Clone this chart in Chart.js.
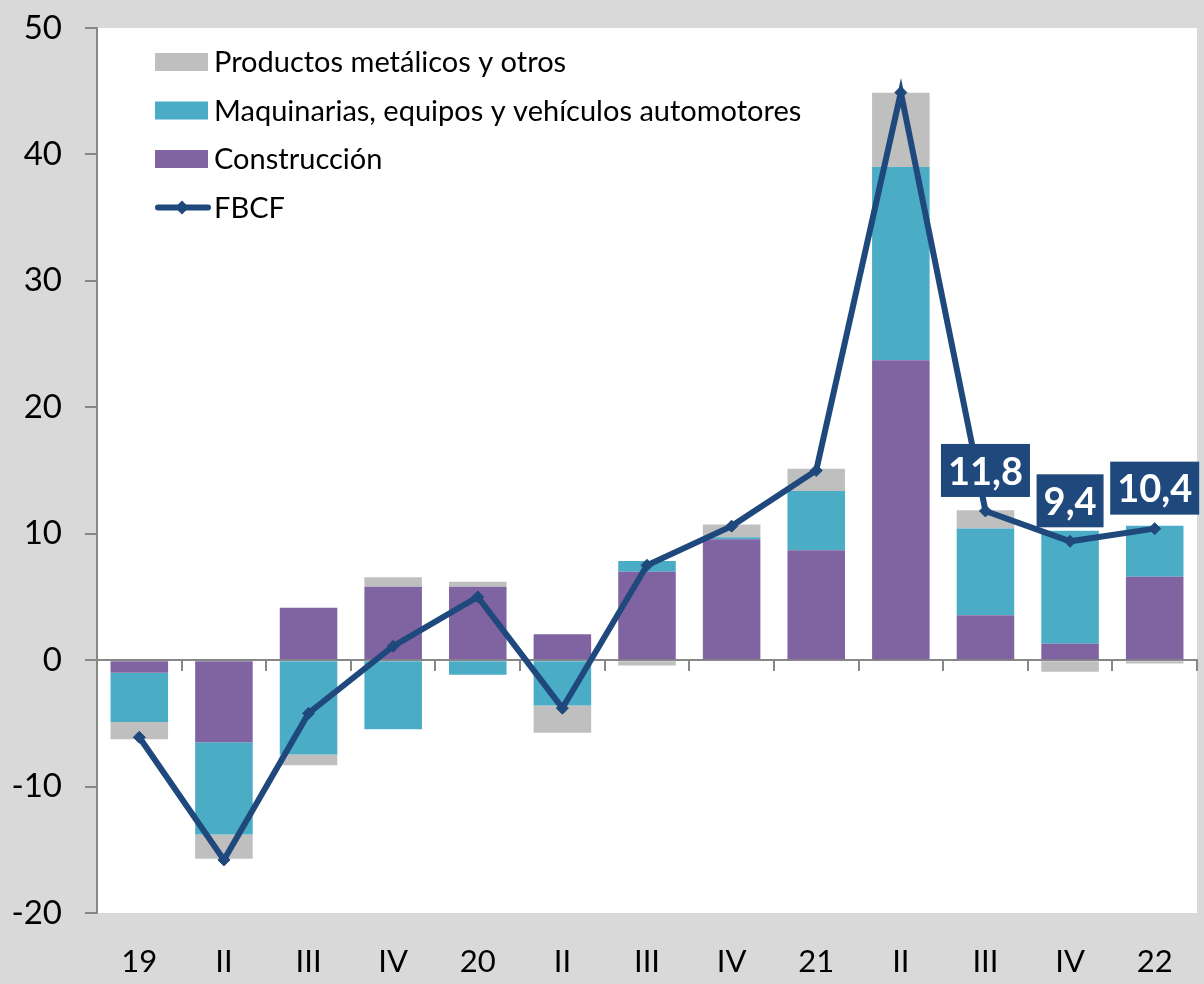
<!DOCTYPE html>
<html>
<head>
<meta charset="utf-8">
<script src="https://cdn.jsdelivr.net/npm/chart.js@4.4.1/dist/chart.umd.min.js"></script>
<style>
  html, body { margin: 0; padding: 0; background: #d9d9d9; }
  #wrap { width: 1204px; height: 984px; }
</style>
</head>
<body>
<div id="wrap"><canvas id="fbcf-chart" width="1204" height="984"></canvas></div>
<script>
// quarters 2019 I .. 2022 I
var categories = ["19", "II", "III", "IV", "20", "II", "III", "IV", "21", "II", "III", "IV", "22"];
var construccion = [-1.0, -6.5, 4.15, 5.8, 5.8, 2.05, 7.0, 9.57, 8.7, 23.73, 3.56, 1.29, 6.59];
var maquinarias = [-3.9, -7.3, -7.46, -5.46, -1.16, -3.58, 0.85, 0.16, 4.67, 15.27, 6.85, 8.94, 4.04];
var productos = [-1.35, -1.9, -0.85, 0.75, 0.4, -2.17, -0.42, 1.0, 1.76, 5.87, 1.45, -0.92, -0.26];
var fbcf = [-6.1, -15.8, -4.2, 1.1, 5.0, -3.8, 7.5, 10.6, 15.0, 44.9, 11.8, 9.4, 10.4];
var yTicks = [-20, -10, 0, 10, 20, 30, 40, 50];
var labelledPoints = [10, 11, 12];

var FONT = "Lato, 'Open Sans', sans-serif";
var AXIS_GREY = "#878787";
var LINE_BLUE = "#1F497D";

// grey page, white plot area
var backgroundPlugin = {
    id: "bg",
    beforeDraw: function (chart) {
        var c = chart.ctx, a = chart.chartArea;
        c.save();
        c.fillStyle = "#d9d9d9";
        c.fillRect(0, 0, chart.width, chart.height);
        c.fillStyle = "#ffffff";
        c.fillRect(a.left, a.top, a.right - a.left, a.bottom - a.top);
        c.restore();
    }
};

// vertical legend inside the plot area
var legendPlugin = {
    id: "insideLegend",
    afterDraw: function (chart) {
        var c = chart.ctx;
        var ds = chart.data.datasets;
        var order = [2, 1, 0, 3];
        var x0 = 155, y0 = 62, step = 48.5;
        c.save();
        c.font = "29px " + FONT;
        c.textBaseline = "middle";
        c.fillStyle = "#000";
        order.forEach(function (i, row) {
            var d = ds[i];
            var y = y0 + row * step;
            if (d.type === "line") {
                c.strokeStyle = d.borderColor;
                c.lineWidth = 6;
                c.lineCap = "round";
                c.beginPath();
                c.moveTo(x0 + 3, y);
                c.lineTo(x0 + 53, y);
                c.stroke();
                c.fillStyle = d.borderColor;
                c.beginPath();
                c.moveTo(x0 + 27, y - 7);
                c.lineTo(x0 + 34, y);
                c.lineTo(x0 + 27, y + 7);
                c.lineTo(x0 + 20, y);
                c.closePath();
                c.fill();
            } else {
                c.fillStyle = d.backgroundColor;
                c.fillRect(x0, y - 9, 53, 18);
            }
            c.fillStyle = "#000";
            c.fillText(d.label, x0 + 59, y + 1);
        });
        c.restore();
    }
};

// dark boxes with the last three FBCF values
var valueBoxPlugin = {
    id: "valueBoxes",
    afterDatasetsDraw: function (chart) {
        var c = chart.ctx;
        var meta = chart.getDatasetMeta(3);
        c.save();
        c.font = "bold 38px " + FONT;
        c.textAlign = "center";
        c.textBaseline = "middle";
        labelledPoints.forEach(function (i) {
            var pt = meta.data[i];
            var txt = fbcf[i].toFixed(1).replace(".", ",");
            var w = c.measureText(txt).width + 14;
            var h = 53;
            var bottom = pt.y - 14;
            c.fillStyle = LINE_BLUE;
            c.fillRect(pt.x - w / 2, bottom - h, w, h);
            c.fillStyle = "#ffffff";
            c.fillText(txt, pt.x, bottom - h / 2 + 2);
        });
        c.restore();
    }
};

var ctx = document.getElementById("fbcf-chart");
var chart = new Chart(ctx, {
    data: {
        labels: categories,
        datasets: [
            {
                type: "bar",
                label: "Construcción",
                data: construccion,
                backgroundColor: "#8064A2",
                stack: "bars",
                barPercentage: 0.68,
                categoryPercentage: 1
            },
            {
                type: "bar",
                label: "Maquinarias, equipos y vehículos automotores",
                data: maquinarias,
                backgroundColor: "#4BACC6",
                stack: "bars",
                barPercentage: 0.68,
                categoryPercentage: 1
            },
            {
                type: "bar",
                label: "Productos metálicos y otros",
                data: productos,
                backgroundColor: "#BFBFBF",
                stack: "bars",
                barPercentage: 0.68,
                categoryPercentage: 1
            },
            {
                type: "line",
                label: "FBCF",
                data: fbcf,
                stack: "line",
                order: -1,
                borderColor: LINE_BLUE,
                backgroundColor: LINE_BLUE,
                borderWidth: 6,
                tension: 0,
                pointStyle: "rectRot",
                pointRadius: 6,
                pointBackgroundColor: LINE_BLUE,
                pointBorderColor: LINE_BLUE,
                pointBorderWidth: 1
            }
        ]
    },
    options: {
        responsive: false,
        animation: false,
        layout: { padding: { top: 28, right: 4, left: 0, bottom: 0 } },
        plugins: {
            legend: { display: false },
            tooltip: { enabled: false }
        },
        scales: {
            x: {
                type: "category",
                stacked: true,
                position: { y: 0 },
                offset: true,
                grid: { offset: true, drawOnChartArea: false, tickLength: 10, color: AXIS_GREY, lineWidth: 2 },
                border: { color: AXIS_GREY, width: 2 },
                ticks: { display: false }
            },
            x2: {
                type: "category",
                position: "bottom",
                offset: true,
                grid: { display: false },
                border: { display: false },
                ticks: { color: "#000", font: { family: FONT, size: 31 }, padding: 22, maxRotation: 0 },
                afterFit: function (s) { s.height = 71; }
            },
            y: {
                stacked: true,
                min: -20,
                max: 50,
                afterBuildTicks: function (s) { s.ticks = yTicks.map(function (v) { return { value: v }; }); },
                grid: { drawOnChartArea: false, tickLength: 12, color: AXIS_GREY, lineWidth: 2 },
                border: { color: AXIS_GREY, width: 2 },
                ticks: { color: "#000", font: { family: FONT, size: 33 }, padding: 23 },
                afterFit: function (s) { s.width = 97; s.paddingTop = 0; s.paddingBottom = 0; }
            }
        }
    },
    plugins: [backgroundPlugin, legendPlugin, valueBoxPlugin]
});
</script>
</body>
</html>
